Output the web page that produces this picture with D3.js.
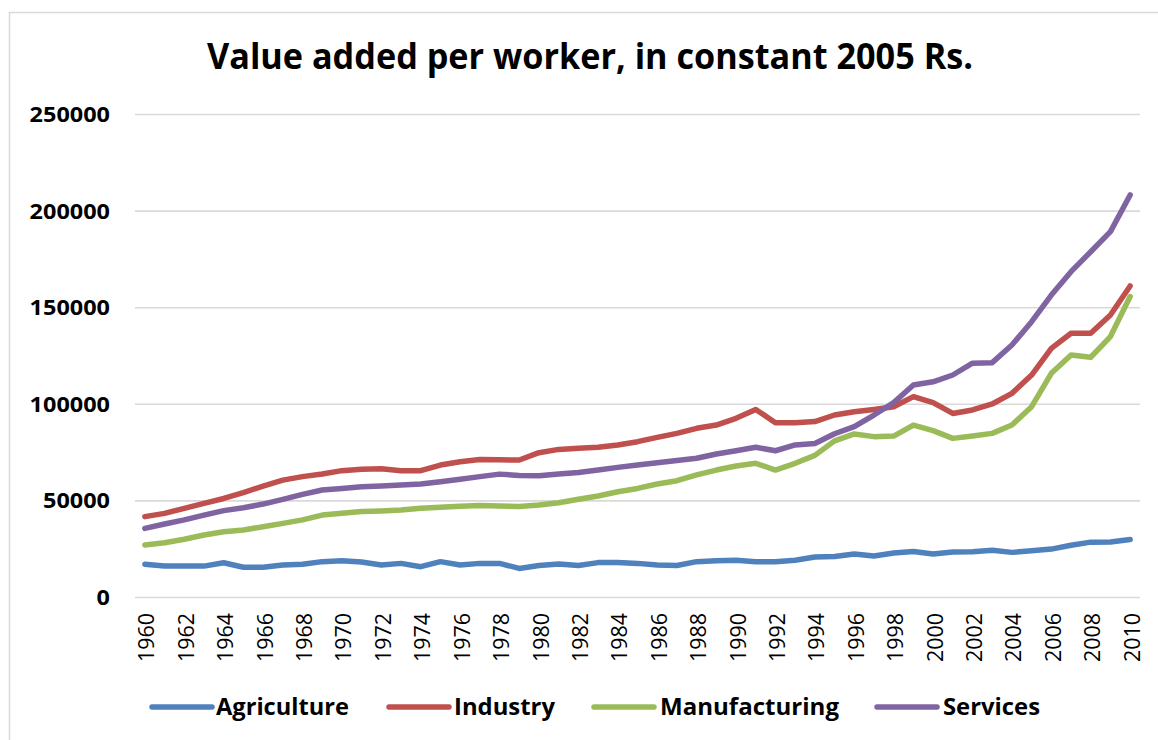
<!DOCTYPE html>
<html>
<head>
<meta charset="utf-8">
<script src="https://cdn.jsdelivr.net/npm/d3@7"></script>
<style>
  html, body { margin: 0; padding: 0; background: #fff; }
  svg { display: block; }
  text { font-family: "Open Sans", "DejaVu Sans", sans-serif; fill: #000; }
</style>
</head>
<body>
<svg id="chart" width="1158" height="740"></svg>
<script>
// Value added per worker by sector, constant 2005 Rs.
const years = [1960,1961,1962,1963,1964,1965,1966,1967,1968,1969,
               1970,1971,1972,1973,1974,1975,1976,1977,1978,1979,
               1980,1981,1982,1983,1984,1985,1986,1987,1988,1989,
               1990,1991,1992,1993,1994,1995,1996,1997,1998,1999,
               2000,2001,2002,2003,2004,2005,2006,2007,2008,2009,2010];

const agriculture = [16900,16000,16000,16000,17700,15400,15400,16600,16900,18300,
                     18800,18100,16600,17400,15700,18300,16600,17400,17400,14800,
                     16300,17100,16300,17800,17900,17400,16600,16300,18300,18800,
                     19000,18300,18300,19000,20700,21000,22300,21200,22800,23600,
                     22300,23300,23400,24200,23100,23900,24800,26800,28400,28500,29800];

const industry = [41600,43300,45900,48500,51000,54000,57400,60500,62300,63700,
                  65400,66100,66400,65400,65400,68300,70000,71200,71000,70900,
                  74700,76400,77000,77500,78700,80400,82600,84700,87300,89000,
                  92500,97100,90200,90200,90800,94200,95900,97100,98500,103700,
                  100600,95000,96800,99900,105400,114900,128700,136500,136500,146000,161000];

const manufacturing = [26900,28100,29900,32100,33800,34700,36400,38100,39900,42400,
                       43300,44200,44500,45000,45900,46400,47000,47300,47100,46800,
                       47600,48800,50600,52300,54500,56200,58500,60200,63200,65700,
                       67800,69200,65700,69200,73300,80800,84400,83000,83300,89000,
                       86100,82100,83300,84700,89000,98500,115800,125300,124100,134800,155500];

const services = [35500,37800,39900,42400,44700,46200,48100,50500,53100,55400,
                  56200,57100,57500,58000,58500,59700,60900,62300,63600,62900,
                  62800,63700,64400,65700,67100,68300,69500,70600,71800,74000,
                  75700,77500,75700,78700,79500,84500,88200,94200,100600,109700,
                  111400,114900,121000,121300,130400,142500,156300,168400,178700,189100,208100];

const seriesNames = ["Agriculture", "Industry", "Manufacturing", "Services"];
const seriesColors = ["#4f81bd", "#c0504d", "#9bbb59", "#8064a2"];
const yTicks = [0, 50000, 100000, 150000, 200000, 250000];
const xTickYears = years.filter((d, i) => i % 2 === 0);
const titleText = "Value added per worker, in constant 2005 Rs.";

const seriesValues = [agriculture, industry, manufacturing, services];
const series = seriesNames.map((name, i) => ({
  name,
  color: seriesColors[i],
  points: years.map((yr, j) => ({ year: yr, value: seriesValues[i][j] }))
}));

const svg = d3.select("#chart");

// outer frame (runs off the right and bottom edges)
svg.append("rect")
  .attr("x", 9.5).attr("y", 12.5)
  .attr("width", 1200).attr("height", 800)
  .attr("fill", "#fff")
  .attr("stroke", "#d9d9d9")
  .attr("stroke-width", 1.5);

// title
svg.append("text")
  .attr("x", 590).attr("y", 69)
  .attr("text-anchor", "middle")
  .attr("font-size", 35)
  .attr("font-weight", 700)
  .attr("textLength", 766)
  .attr("lengthAdjust", "spacingAndGlyphs")
  .text(titleText);

const plotLeft = 135, plotRight = 1140, plotTop = 114, plotBottom = 597;

const x = d3.scalePoint().domain(years).range([plotLeft, plotRight]).padding(0.5);
const y = d3.scaleLinear().domain([0, 250000]).range([plotBottom, plotTop]);

// y axis with gridlines
const yAxis = svg.append("g")
  .attr("transform", `translate(${plotLeft},0)`)
  .call(d3.axisLeft(y).tickValues(yTicks).tickSize(-(plotRight - plotLeft)).tickPadding(25).tickFormat(d3.format("d")));
yAxis.select(".domain").remove();
yAxis.selectAll(".tick line")
  .attr("stroke", "#d9d9d9")
  .attr("stroke-width", 1.6);
yAxis.selectAll(".tick text")
  .attr("font-family", "'Open Sans', sans-serif")
  .attr("font-size", 21)
  .attr("font-weight", 700)
  .attr("fill", "#000")
  .attr("dy", "0.36em")
  .attr("textLength", d => String(d).length * 13.4)
  .attr("lengthAdjust", "spacingAndGlyphs");

// x axis, rotated year labels
const xAxis = svg.append("g")
  .attr("transform", `translate(0,${plotBottom})`)
  .call(d3.axisBottom(x).tickValues(xTickYears).tickSize(0).tickPadding(0));
xAxis.select(".domain").remove();
xAxis.selectAll(".tick text")
  .attr("font-family", "'Open Sans', sans-serif")
  .attr("font-size", 21)
  .attr("fill", "#000")
  .attr("text-anchor", "end")
  .attr("transform", "translate(1.5,16) rotate(-90)")
  .attr("x", 0)
  .attr("y", 0)
  .attr("dy", "0.36em")
  .attr("textLength", 49)
  .attr("lengthAdjust", "spacingAndGlyphs");

// series lines
const line = d3.line()
  .x(d => x(d.year))
  .y(d => y(d.value));

svg.append("g")
  .selectAll("path")
  .data(series)
  .join("path")
  .attr("d", d => line(d.points))
  .attr("fill", "none")
  .attr("stroke", d => d.color)
  .attr("stroke-width", 5.5)
  .attr("stroke-linejoin", "round")
  .attr("stroke-linecap", "round");

// legend
const legendItems = [
  { lineX: 152, textX: 216, width: 133 },
  { lineX: 389, textX: 454, width: 101 },
  { lineX: 594, textX: 660, width: 179 },
  { lineX: 877, textX: 943, width: 97 }
];
const legendY = 707;
const legend = svg.append("g");
series.forEach((s, i) => {
  const it = legendItems[i];
  legend.append("line")
    .attr("x1", it.lineX).attr("x2", it.lineX + 60)
    .attr("y1", legendY).attr("y2", legendY)
    .attr("stroke", s.color)
    .attr("stroke-width", 5.5)
    .attr("stroke-linecap", "round");
  legend.append("text")
    .attr("x", it.textX).attr("y", legendY)
    .attr("dy", "0.36em")
    .attr("font-size", 23)
    .attr("font-weight", 700)
    .attr("textLength", it.width)
    .attr("lengthAdjust", "spacingAndGlyphs")
    .text(s.name);
});
</script>
</body>
</html>
